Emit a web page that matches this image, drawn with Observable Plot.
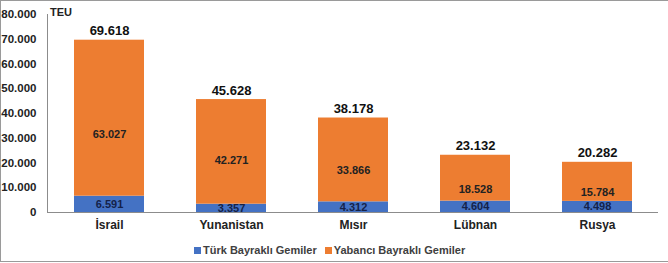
<!DOCTYPE html>
<html>
<head>
<meta charset="utf-8">
<script src="https://cdn.jsdelivr.net/npm/d3@7"></script>
<script src="https://cdn.jsdelivr.net/npm/@observablehq/plot@0.6"></script>
<style>
  html, body { margin: 0; padding: 0; background: #fff; }
  #wrap { position: relative; width: 668px; height: 262px; box-sizing: border-box;
    border-top: 1px solid #9a9a9a; border-left: 1px solid #9a9a9a; border-bottom: 1px solid #9a9a9a;
    font-family: "Liberation Sans", Arial, sans-serif; overflow: hidden; }
  #chart { position: absolute; left: -1px; top: -1px; }
  #unit { position: absolute; left: 49px; top: 5px; font-size: 11px; font-weight: bold; color: #222; }
  #legend { position: absolute; left: 193px; top: 243px; font-size: 11px; font-weight: bold; color: #404040; display: flex; gap: 8px; }
  #legend span.sw { display: inline-block; width: 7px; height: 7px; margin-right: 2px; vertical-align: 0px; }
</style>
</head>
<body>
<div id="wrap">
  <div id="chart"></div>
  <div id="unit">TEU</div>
  <div id="legend"></div>
</div>
<script>
const categories = ["İsrail", "Yunanistan", "Mısır", "Lübnan", "Rusya"];
const seriesNames = ["Türk Bayraklı Gemiler", "Yabancı Bayraklı Gemiler"];
const turkValues = [6591, 3357, 4312, 4604, 4498];
const foreignValues = [63027, 42271, 33866, 18528, 15784];
const totals = [69618, 45628, 38178, 23132, 20282];
const yTicks = [0, 10000, 20000, 30000, 40000, 50000, 60000, 70000, 80000];
const colors = ["#4472C4", "#ED7D31"];

const locale = d3.formatLocale({decimal: ",", thousands: ".", grouping: [3], currency: ["", ""]});
const fmt = locale.format(",d");

const rows = [];
categories.forEach((c, i) => {
  rows.push({cat: c, series: seriesNames[0], value: turkValues[i]});
  rows.push({cat: c, series: seriesNames[1], value: foreignValues[i]});
});
const totalRows = categories.map((c, i) => ({cat: c, total: totals[i]}));

const chart = Plot.plot({
  width: 668,
  height: 238,
  marginTop: 14,
  marginBottom: 26,
  marginLeft: 47,
  marginRight: 10,
  style: {fontFamily: "Liberation Sans, Arial, sans-serif", fontWeight: "bold", fontSize: "11.5px", color: "#222"},
  x: {domain: categories, paddingInner: 0.43, paddingOuter: 0.215, label: null, tickSize: 0, tickPadding: 8},
  y: {domain: [0, 80000], ticks: yTicks, tickFormat: d => fmt(d), label: null, tickSize: 0, tickPadding: 11},
  color: {domain: seriesNames, range: colors},
  marks: [
    Plot.barY(rows, {x: "cat", y: "value", fill: "series", z: "series", order: seriesNames}),
    Plot.text(rows, Plot.stackY({x: "cat", y: "value", z: "series", order: seriesNames, text: d => fmt(d.value),
      filter: d => d.series === seriesNames[0], fill: "#14224a", fontSize: 11, fontWeight: "bold"})),
    Plot.text(rows, Plot.stackY({x: "cat", y: "value", z: "series", order: seriesNames, text: d => fmt(d.value),
      filter: d => d.series === seriesNames[1], fill: "#222", fontSize: 11, fontWeight: "bold"})),
    Plot.text(totalRows, {x: "cat", y: "total", text: d => fmt(d.total), dy: -9, fontSize: 13, fontWeight: "bold", fill: "#111"}),
    Plot.ruleY([0], {stroke: "#8c8c8c", strokeWidth: 1}),
    Plot.frame({anchor: "left", stroke: "#8c8c8c"})
  ]
});
chart.querySelectorAll("[aria-label='x-axis tick label'] text").forEach(t => { t.style.fontSize = "12px"; });
document.getElementById("chart").appendChild(chart);

const legend = document.getElementById("legend");
seriesNames.forEach((s, i) => {
  const item = document.createElement("div");
  const sw = document.createElement("span");
  sw.className = "sw";
  sw.style.background = colors[i];
  item.appendChild(sw);
  item.appendChild(document.createTextNode(s));
  legend.appendChild(item);
});
</script>
</body>
</html>
